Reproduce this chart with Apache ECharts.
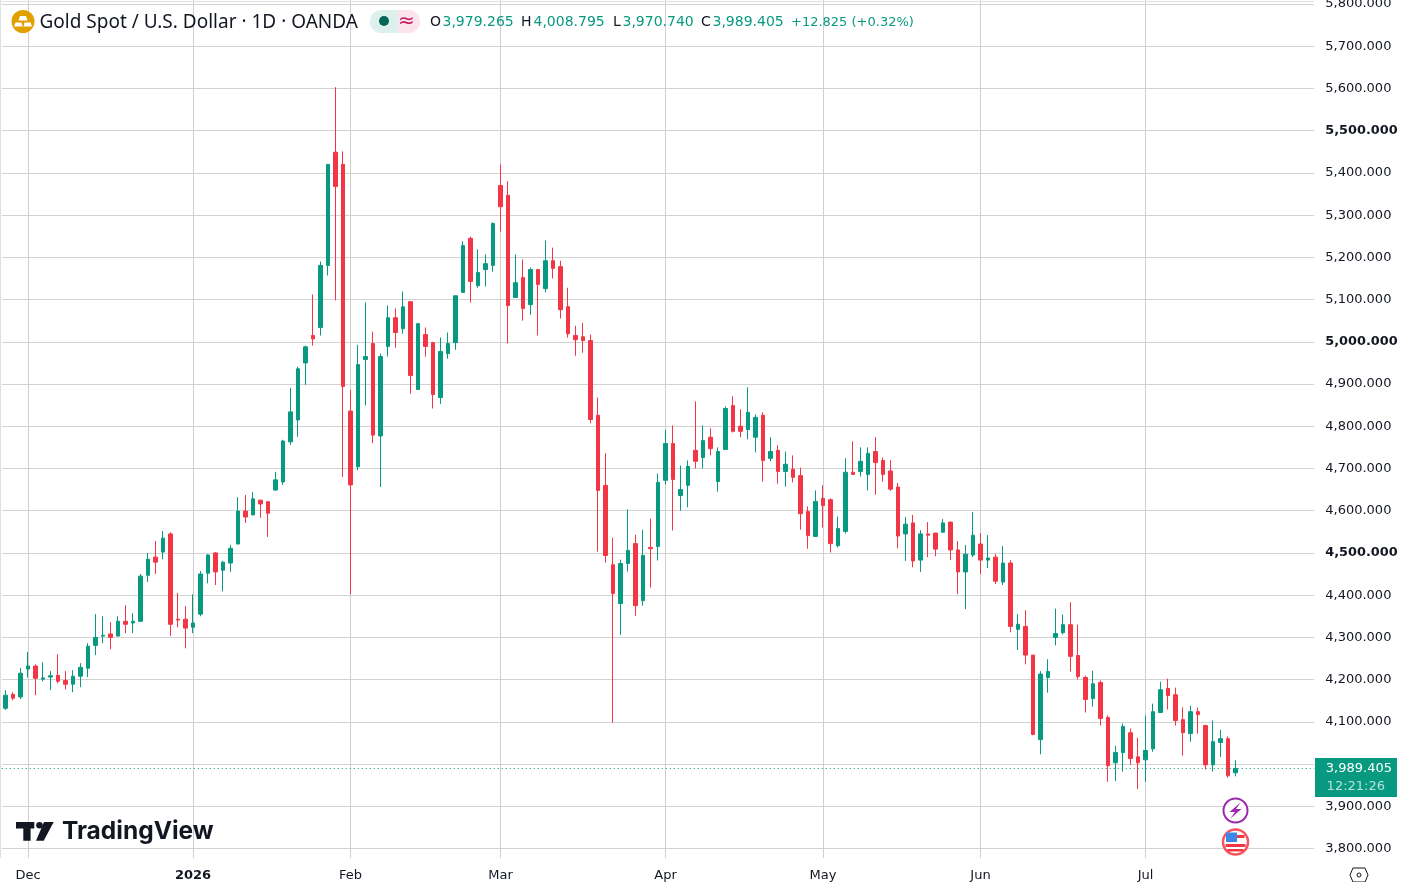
<!DOCTYPE html>
<html><head><meta charset="utf-8">
<style>html,body{margin:0;padding:0;background:#fff}#c{width:1402px;height:882px}</style>
<script src="https://cdn.jsdelivr.net/npm/echarts@6/dist/echarts.min.js"></script>
</head><body><div id="c"></div>
<script>
const dates = ["Nov 26","Nov 27","Nov 28",
"Dec 1","Dec 2","Dec 3","Dec 4","Dec 5","Dec 8","Dec 9","Dec 10","Dec 11","Dec 12","Dec 15","Dec 16","Dec 17","Dec 18","Dec 19","Dec 22","Dec 23","Dec 24","Dec 26","Dec 29","Dec 30","Dec 31",
"Jan 2","Jan 5","Jan 6","Jan 7","Jan 8","Jan 9","Jan 12","Jan 13","Jan 14","Jan 15","Jan 16","Jan 19","Jan 20","Jan 21","Jan 22","Jan 23","Jan 26","Jan 27","Jan 28","Jan 29","Jan 30",
"Feb 2","Feb 3","Feb 4","Feb 5","Feb 6","Feb 9","Feb 10","Feb 11","Feb 12","Feb 13","Feb 16","Feb 17","Feb 18","Feb 19","Feb 20","Feb 23","Feb 24","Feb 25","Feb 26","Feb 27",
"Mar 2","Mar 3","Mar 4","Mar 5","Mar 6","Mar 9","Mar 10","Mar 11","Mar 12","Mar 13","Mar 16","Mar 17","Mar 18","Mar 19","Mar 20","Mar 23","Mar 24","Mar 25","Mar 26","Mar 27","Mar 30","Mar 31",
"Apr 1","Apr 2","Apr 6","Apr 7","Apr 8","Apr 9","Apr 10","Apr 13","Apr 14","Apr 15","Apr 16","Apr 17","Apr 20","Apr 21","Apr 22","Apr 23","Apr 24","Apr 27","Apr 28","Apr 29","Apr 30",
"May 1","May 4","May 5","May 6","May 7","May 8","May 11","May 12","May 13","May 14","May 15","May 18","May 19","May 20","May 21","May 22","May 25","May 26","May 27","May 28","May 29",
"Jun 1","Jun 2","Jun 3","Jun 4","Jun 5","Jun 8","Jun 9","Jun 10","Jun 11","Jun 12","Jun 15","Jun 16","Jun 17","Jun 18","Jun 19","Jun 22","Jun 23","Jun 24","Jun 25","Jun 26","Jun 29","Jun 30",
"Jul 1","Jul 2","Jul 3","Jul 6","Jul 7","Jul 8","Jul 9","Jul 10","Jul 13","Jul 14","Jul 15","Jul 16","Jul 17"];
const futureSlots = ["+1","+2","+3","+4","+5","+6","+7","+8","+9","+10"];
const monthTicks = {"Dec 1":"Dec","Jan 2":"2026","Feb 2":"Feb","Mar 2":"Mar","Apr 1":"Apr","May 1":"May","Jun 1":"Jun","Jul 1":"Jul"};
const priceTicks = [3800,3900,4000,4100,4200,4300,4400,4500,4600,4700,4800,4900,5000,5100,5200,5300,5400,5500,5600,5700,5800];
const opens = [4132,4165,4159,4225,4232,4201,4206,4210,4198,4189,4208,4227,4281,4303,4308,4303,4338,4334,4338,4447,4490,4502,4545,4343,4343,4324,4355,4452,4500,4459,4476,4521,4599,4590,4625,4621,4649,4668,4763,4815,4950,5015,5034,5181,5449,5420,4836,4704,4958,4996,4777,4989,5057,5031,5095,4887,5017,4998,4868,4972,4998,5117,5245,5133,5171,5181,5370,5347,5105,5152,5088,5171,5126,5192,5178,5083,5015,5012,5003,4826,4660,4472,4380,4475,4522,4387,4513,4515,4672,4759,4636,4660,4743,4726,4774,4669,4745,4849,4800,4792,4774,4826,4724,4743,4693,4698,4683,4598,4539,4629,4626,4517,4551,4691,4693,4686,4740,4719,4694,4656,4545,4571,4483,4545,4547,4549,4573,4507,4455,4495,4521,4483,4490,4431,4476,4319,4326,4258,4058,4205,4300,4311,4330,4257,4205,4155,4193,4110,4003,4027,4074,4017,4010,4036,4122,4179,4164,4105,4072,4124,4091,3998,4051,4060,3979.265];
const closes = [4163,4156,4215,4232,4203,4204,4209,4196,4189,4208,4229,4279,4300,4305,4300,4338,4331,4338,4445,4485,4478,4535,4331,4341,4322,4334,4450,4495,4455,4478,4511,4599,4585,4628,4616,4594,4673,4765,4834,4936,4988,5007,5181,5420,5368,4894,4661,4946,4965,4779,4965,5057,5022,5083,4920,5043,4989,4875,4977,4996,5109,5228,5143,5164,5185,5280,5320,5086,5140,5079,5171,5136,5192,5174,5076,5019,5005,5003,4816,4648,4494,4404,4475,4506,4375,4494,4510,4667,4759,4674,4650,4705,4717,4766,4747,4740,4842,4788,4788,4833,4821,4719,4740,4693,4710,4679,4593,4541,4622,4612,4522,4558,4691,4686,4717,4736,4714,4686,4651,4540,4568,4481,4545,4542,4509,4571,4507,4455,4497,4542,4483,4488,4433,4476,4326,4331,4258,4070,4213,4219,4309,4330,4255,4207,4153,4190,4108,3996,4027,4089,4013,4003,4032,4124,4176,4162,4103,4074,4124,4117,3998,4053,4060,3972,3989.405];
const lows = [4128,4151,4154,4205,4163,4196,4175,4191,4177,4170,4182,4206,4258,4286,4272,4303,4310,4310,4338,4431,4450,4485,4303,4324,4274,4310,4350,4428,4424,4409,4455,4521,4571,4590,4583,4538,4647,4661,4756,4775,4898,4991,5015,5157,5098,4680,4402,4696,4849,4760,4656,4965,4986,5019,4877,4887,4965,4842,4853,4960,4981,5117,5093,5128,5131,5166,5261,4996,5105,5050,5064,5015,5117,5150,5055,5010,4967,4974,4807,4503,4477,4098,4306,4456,4351,4375,4418,4482,4662,4553,4600,4608,4700,4700,4731,4645,4745,4785,4774,4769,4738,4669,4717,4664,4657,4667,4555,4510,4539,4560,4501,4513,4546,4686,4681,4648,4638,4669,4647,4511,4481,4466,4455,4490,4492,4549,4483,4402,4367,4490,4450,4464,4426,4424,4312,4270,4236,4068,4023,4169,4281,4307,4219,4200,4122,4136,4091,3958,3960,3982,3998,3941,3958,4029,4122,4129,4091,4020,4053,4072,3987,3982,4017,3968,3970.74];
const highs = [4175,4170,4227,4265,4236,4241,4220,4260,4220,4222,4239,4286,4355,4350,4336,4350,4376,4357,4450,4500,4528,4552,4549,4405,4374,4402,4457,4497,4502,4481,4519,4632,4637,4644,4625,4623,4692,4768,4891,4941,4991,5112,5190,5420,5603,5451,4886,4993,5093,5024,4972,5086,5079,5119,5095,5045,5034,5000,5010,5022,5109,5238,5249,5219,5207,5283,5420,5380,5207,5195,5176,5171,5240,5223,5192,5128,5038,5045,5017,4868,4736,4536,4484,4603,4543,4555,4581,4688,4792,4802,4707,4719,4859,4802,4795,4750,4847,4871,4840,4892,4828,4833,4774,4755,4740,4731,4702,4610,4648,4660,4629,4586,4724,4764,4750,4750,4774,4726,4720,4666,4585,4590,4554,4573,4547,4580,4573,4528,4519,4597,4547,4542,4497,4516,4483,4355,4364,4258,4220,4248,4368,4354,4383,4330,4209,4221,4198,4115,4043,4096,4084,4062,4115,4143,4195,4202,4181,4134,4138,4134,4093,4103,4081,4065,4008.795];
const lastClose = 3989.405;
const countdown = "12:21:26";
const headerParts = [["O","3,979.265"],["H","4,008.795"],["L","3,970.740"],["C","3,989.405"]];
const changeText = "+12.825 (+0.32%)";
const titleText = "Gold Spot / U.S. Dollar · 1D · OANDA";

const UP = "#089981", DOWN = "#F23645", INK = "#131722", GRID = "#d3d3d3";
const FONT = "DejaVu Sans";
const fmt = v=>v.toLocaleString("en-US",{minimumFractionDigits:3,maximumFractionDigits:3});
const candles = opens.map((o,i)=>[o,closes[i],lows[i],highs[i]]);
const cats = dates.concat(futureSlots);
const isMonth = (i,v)=>Object.prototype.hasOwnProperty.call(monthTicks,v);
const chart = echarts.init(document.getElementById("c"),null,{renderer:"canvas"});
chart.setOption({
  animation:false,
  backgroundColor:"#fff",
  grid:{left:1.75,right:87.75,top:0,bottom:24,containLabel:false,outerBoundsMode:"none"},
  xAxis:{type:"category",data:cats,boundaryGap:true,
    axisLine:{show:false},axisTick:{show:false,alignWithLabel:true,interval:isMonth},
    axisLabel:{interval:isMonth,margin:11,fontFamily:FONT,fontSize:13,color:INK,hideOverlap:false,
      formatter:v=>{const t=monthTicks[v]||"";return t==="2026"?"{b|2026}":t;},
      rich:{b:{fontFamily:FONT,fontSize:13,fontWeight:"bold",color:INK}}},
    splitLine:{show:true,alignWithLabel:true,interval:isMonth,lineStyle:{color:"#cfcfcf",width:1}}},
  yAxis:{type:"value",position:"right",min:3777.42,max:5809.52,interval:100,scale:true,
    axisLine:{show:false},axisTick:{show:false,customValues:priceTicks},
    axisLabel:{margin:11,align:"left",fontFamily:FONT,fontSize:13,color:INK,customValues:priceTicks,
      formatter:v=>v%500===0?"{b|"+fmt(v)+"}":fmt(v),
      rich:{b:{fontFamily:FONT,fontSize:12.85,fontWeight:"bold",color:INK}}},
    splitLine:{show:true,customValues:priceTicks,lineStyle:{color:GRID,width:1}}},
  series:[{type:"candlestick",data:candles,barWidth:4,
    itemStyle:{color:UP,color0:DOWN,borderColor:UP,borderColor0:DOWN,borderWidth:1},
    markLine:{silent:true,symbol:"none",label:{show:false},animation:false,
      lineStyle:{color:UP,type:[1,3],width:1},data:[{yAxis:lastClose}]}}]
});
const py = chart.convertToPixel({yAxisIndex:0},lastClose);
const px = chart.convertToPixel({xAxisIndex:0},dates.length-1);
const T=(x,y,text,fill,size,extra)=>({type:"text",z:50,x,y,style:Object.assign({text,fill,fontFamily:FONT,fontSize:size,verticalAlign:"middle",align:"left"},extra||{})});
const gfx=[];
// frame
gfx.push({type:"rect",z:1,shape:{x:0,y:0,width:1,height:858},style:{fill:"#e0e0e0"}});
gfx.push({type:"rect",z:1,shape:{x:0,y:1,width:1314,height:1},style:{fill:"#e0e0e0"}});
// header logo
gfx.push({type:"circle",z:50,shape:{cx:23,cy:21.5,r:11.5},style:{fill:"#E0A000"}});
gfx.push({type:"polygon",z:51,shape:{points:[[20,16],[26,16],[27.5,20.5],[18.5,20.5]]},style:{fill:"#fff"}});
gfx.push({type:"polygon",z:51,shape:{points:[[15.5,22.5],[21.5,22.5],[22.5,26.5],[14,26.5]]},style:{fill:"#fff"}});
gfx.push({type:"polygon",z:51,shape:{points:[[24.5,22.5],[30.5,22.5],[32,26.5],[23.5,26.5]]},style:{fill:"#fff"}});
gfx.push(T(39.5,23,titleText,INK,19,{fontFamily:"Noto Sans"}));
// status pill
gfx.push({type:"rect",z:50,shape:{x:370,y:10,width:28,height:23,r:[11.5,0,0,11.5]},style:{fill:"#DCF1EC"}});
gfx.push({type:"rect",z:50,shape:{x:398,y:10,width:22,height:23,r:[0,11.5,11.5,0]},style:{fill:"#FCE4EC"}});
gfx.push({type:"circle",z:51,shape:{cx:384,cy:21,r:5},style:{fill:"#056656"}});
gfx.push(T(398,21.5,"≈","#C2185B",20,{fontFamily:"DejaVu Sans"}));
// OHLC
const lx=[430,521,613,701], vx=[442.5,533.5,622.5,712.5];
headerParts.forEach((p,i)=>{gfx.push(T(lx[i],22.5,p[0],INK,14));gfx.push(T(vx[i],22.5,p[1],UP,14));});
gfx.push(T(791,22.5,changeText,UP,13));
// watermark
gfx.push({type:"polygon",z:50,shape:{points:[[16,822],[34.3,822],[34.3,828.5],[30.6,828.5],[30.6,840.7],[23.3,840.7],[23.3,828.5],[16,828.5]]},style:{fill:INK}});
gfx.push({type:"circle",z:50,shape:{cx:39.5,cy:825.3,r:3.3},style:{fill:INK}});
gfx.push({type:"polygon",z:50,shape:{points:[[44,822],[53.7,822],[43.7,840.7],[36,840.7]]},style:{fill:INK}});
gfx.push(T(62,832,"TradingView",INK,24.5,{fontFamily:"Inter",fontWeight:"bold"}));
// price tag
gfx.push({type:"rect",z:60,shape:{x:1315,y:py-10.5,width:82,height:39},style:{fill:UP}});
const t1=T(1392,py+0.5,fmt(lastClose),"#fff",13,{align:"right"}); t1.z=61; gfx.push(t1);
const t2=T(1385,py+18,countdown,"rgba(255,255,255,0.7)",13,{align:"right"}); t2.z=61; gfx.push(t2);
// event badges, under the last candle
const ecx=px;
gfx.push({type:"circle",z:50,shape:{cx:ecx,cy:810.5,r:12},style:{fill:"#fff",stroke:"#9C27B0",lineWidth:2}});
gfx.push({type:"polygon",z:51,shape:{points:[[ecx+5,802.5],[ecx-6,812],[ecx-0.5,812],[ecx-5,818.5],[ecx+6,809],[ecx+0.5,809]]},style:{fill:"#9C27B0"}});
gfx.push({type:"circle",z:50,shape:{cx:ecx,cy:842,r:12.5},style:{fill:"#fff",stroke:"#F4555F",lineWidth:2.5}});
gfx.push({type:"rect",z:51,shape:{x:ecx-9,y:835,width:18,height:3},style:{fill:"#F23645"}});
gfx.push({type:"rect",z:51,shape:{x:ecx-10,y:844,width:20,height:3},style:{fill:"#F23645"}});
gfx.push({type:"rect",z:51,shape:{x:ecx-8,y:849,width:16,height:2.5},style:{fill:"#F23645"}});
gfx.push({type:"rect",z:52,shape:{x:ecx-9.5,y:832.5,width:11,height:9.5},style:{fill:"#3D87E8"}});
// settings hexagon
gfx.push({type:"polygon",z:50,shape:{points:[[1353,868],[1365,868],[1368,875],[1365,882],[1353,882],[1350,875]]},style:{fill:"#fff",stroke:INK,lineWidth:1}});
gfx.push({type:"circle",z:51,shape:{cx:1359,cy:875,r:2},style:{fill:"#fff",stroke:INK,lineWidth:1}});
chart.setOption({graphic:gfx});
</script></body></html>
